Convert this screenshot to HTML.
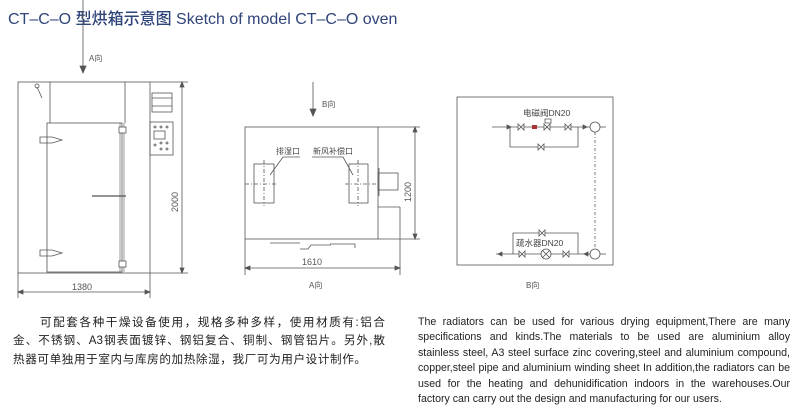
<!DOCTYPE html>
<html><head><meta charset="utf-8"><style>
body{margin:0;background:#fff;width:800px;height:412px;overflow:hidden;position:relative;font-family:"Liberation Sans","Noto Sans CJK SC",sans-serif}
.t{position:absolute;left:8px;top:5px;font-size:16px;color:#2f4478;white-space:nowrap;font-weight:500}
.cn div{position:absolute;font-size:11.6px;color:#222;text-align:justify;text-align-last:justify;white-space:nowrap}
.en{position:absolute;left:418px;top:315px;width:372px;font-size:10.6px;line-height:15.4px;color:#222;text-align:justify}
.en span{display:block;text-align:justify;text-align-last:justify;white-space:nowrap}
.en span.l{text-align-last:auto}
svg{position:absolute;left:0;top:0}
</style></head><body>
<div class="t">CT–C–O 型烘箱示意图 Sketch of model CT–C–O oven</div>
<svg width="800" height="412" font-family="Liberation Sans,Noto Sans CJK SC,sans-serif" font-size="8" fill="none" stroke="#555" stroke-width="0.8">
<line x1="83" y1="0" x2="83" y2="70"/><path d="M80,66 L83,73 L86,66Z" fill="#555"/>
<text x="89" y="61" fill="#555" stroke="none">A向</text>
<rect x="18" y="82" width="132" height="191"/>
<line x1="50" y1="82" x2="50" y2="123"/><line x1="125" y1="82" x2="125" y2="123"/>
<rect x="47" y="123" width="75" height="149"/>
<line x1="120" y1="123" x2="120" y2="272" stroke-width="0.6"/><line x1="124" y1="123" x2="124" y2="272" stroke-width="0.6"/>
<rect x="119" y="127" width="7" height="6" fill="#fff"/><rect x="119" y="261" width="7" height="6" fill="#fff"/>
<path d="M40,137 h12 l10,3 l-10,3 h-12z M40,250 h12 l10,3 l-10,3 h-12z"/>
<line x1="92" y1="196" x2="126" y2="196" stroke-width="1.2"/>
<line x1="37" y1="87" x2="42" y2="98"/><circle cx="37" cy="86" r="2"/>
<rect x="152" y="93" width="20" height="19"/><line x1="152" y1="98" x2="172" y2="98"/><line x1="152" y1="106" x2="172" y2="106"/>
<rect x="150" y="122" width="23" height="33"/><rect x="154" y="131" width="11" height="8"/>
<circle cx="155" cy="127" r="1"/><circle cx="161" cy="127" r="1"/><circle cx="167" cy="127" r="1"/>
<circle cx="161" cy="143" r="1"/><circle cx="167" cy="143" r="1"/><circle cx="161" cy="149" r="1"/><circle cx="167" cy="149" r="1"/><circle cx="155" cy="145" r="1"/>
<line x1="150" y1="82" x2="188" y2="82"/><line x1="150" y1="273" x2="188" y2="273"/>
<line x1="182" y1="82" x2="182" y2="273"/><path d="M180,87 L182,82 L184,87Z M180,268 L182,273 L184,268Z" fill="#555"/>
<text transform="translate(178,212) rotate(-90)" fill="#555" stroke="none" font-size="9">2000</text>
<line x1="18" y1="273" x2="18" y2="298"/><line x1="150" y1="273" x2="150" y2="298"/>
<line x1="18" y1="292" x2="150" y2="292"/><path d="M23,290 L18,292 L23,294Z M145,290 L150,292 L145,294Z" fill="#555"/>
<text x="72" y="290" fill="#555" stroke="none" font-size="9">1380</text>
<line x1="313" y1="82" x2="313" y2="113"/><path d="M310,109 L313,116 L316,109Z" fill="#555"/>
<text x="322" y="107" fill="#555" stroke="none">B向</text>
<rect x="245" y="127" width="133" height="112"/>
<line x1="378" y1="127" x2="420" y2="127"/><line x1="378" y1="239" x2="420" y2="239"/>
<line x1="378" y1="207" x2="400" y2="207"/><line x1="400" y1="207" x2="400" y2="275"/>
<rect x="378" y="173" width="20" height="17"/><line x1="379" y1="168" x2="379" y2="196"/>
<rect x="254" y="164" width="20" height="39"/><rect x="349" y="164" width="19" height="39"/>
<g stroke-dasharray="4,2,1,2"><line x1="245" y1="184" x2="278" y2="184"/><line x1="264" y1="160" x2="264" y2="206"/><line x1="345" y1="184" x2="378" y2="184"/><line x1="358" y1="160" x2="358" y2="206"/></g>
<text x="276" y="154" fill="#444" stroke="none">排湿口</text><text x="313" y="154" fill="#444" stroke="none">新风补偿口</text>
<path d="M270,175 L283,157 L300,157 M353,175 L343,157 L312,157"/>
<path d="M270,243 h30 M330,244 h25 v4 M300,249 h8 l3,-4 h20"/>
<line x1="245" y1="239" x2="245" y2="275"/>
<line x1="245" y1="268" x2="400" y2="268"/><path d="M250,266 L245,268 L250,270Z M395,266 L400,268 L395,270Z" fill="#555"/>
<text x="302" y="265" fill="#555" stroke="none" font-size="9">1610</text>
<text x="309" y="288" fill="#555" stroke="none">A向</text>
<line x1="415" y1="127" x2="415" y2="239"/><path d="M413,132 L415,127 L417,132Z M413,234 L415,239 L417,234Z" fill="#555"/>
<text transform="translate(411,202) rotate(-90)" fill="#555" stroke="none" font-size="9">1200</text>
<rect x="457" y="97" width="156" height="168"/>
<text x="523" y="116" fill="#444" stroke="none" font-size="8.5">电磁阀DN20</text>
<line x1="492" y1="127" x2="590" y2="127"/><line x1="600" y1="127" x2="606" y2="127"/>
<path d="M507,125 L511,127 L507,129Z M583,125 L587,127 L583,129Z" fill="#555"/>
<circle cx="595" cy="127" r="5"/>
<path d="M510,127 V147 H578 V127"/>
<path d="M518,124 l6,6 v-6 l-6,6z M565,124 l6,6 v-6 l-6,6z M538,144 l6,6 v-6 l-6,6z" fill="#fff"/>
<rect x="532" y="125" width="5" height="4" fill="#a33" stroke="none"/>
<path d="M544,124 l6,6 v-6 l-6,6z M545,119 h6 v4 h-6z" fill="#fff"/>
<line x1="595" y1="132" x2="595" y2="249" stroke-dasharray="3,2,1,2"/>
<text x="516" y="246" fill="#444" stroke="none" font-size="8.5">疏水器DN20</text>
<path d="M513,254 V233 H578 V254"/>
<line x1="496" y1="254" x2="590" y2="254"/><line x1="600" y1="254" x2="606" y2="254"/>
<path d="M502,252 L498,254 L502,256Z M588,252 L584,254 L588,256Z" fill="#555"/>
<circle cx="595" cy="254" r="5"/>
<circle cx="546" cy="254" r="5" fill="#fff"/><path d="M542.5,250.5 l7,7 M549.5,250.5 l-7,7"/>
<path d="M519,251 l6,6 v-6 l-6,6z M563,251 l6,6 v-6 l-6,6z M539,230 l6,6 v-6 l-6,6z" fill="#fff"/>
<text x="526" y="288" fill="#555" stroke="none">B向</text>
</svg>
<div class="cn">
<div style="left:40px;top:314px;width:345px">可配套各种干燥设备使用，规格多种多样，使用材质有:铝合</div>
<div style="left:13px;top:332px;width:372px">金、不锈钢、A3钢表面镀锌、钢铝复合、铜制、钢管铝片。另外,散</div>
<div style="left:13px;top:351px;text-align-last:auto;letter-spacing:0.6px">热器可单独用于室内与库房的加热除湿，我厂可为用户设计制作。</div>
</div>
<div class="en">
<span>The radiators can be used for various drying equipment,There are many</span>
<span>specifications and kinds.The materials to be used are aluminium alloy</span>
<span>stainless steel, A3 steel surface zinc covering,steel and aluminium compound,</span>
<span>copper,steel pipe and aluminium winding sheet In addition,the radiators can be</span>
<span>used for the heating and dehunidification indoors in the warehouses.Our</span>
<span class="l">factory can carry out the design and manufacturing for our users.</span>
</div>
</body></html>
